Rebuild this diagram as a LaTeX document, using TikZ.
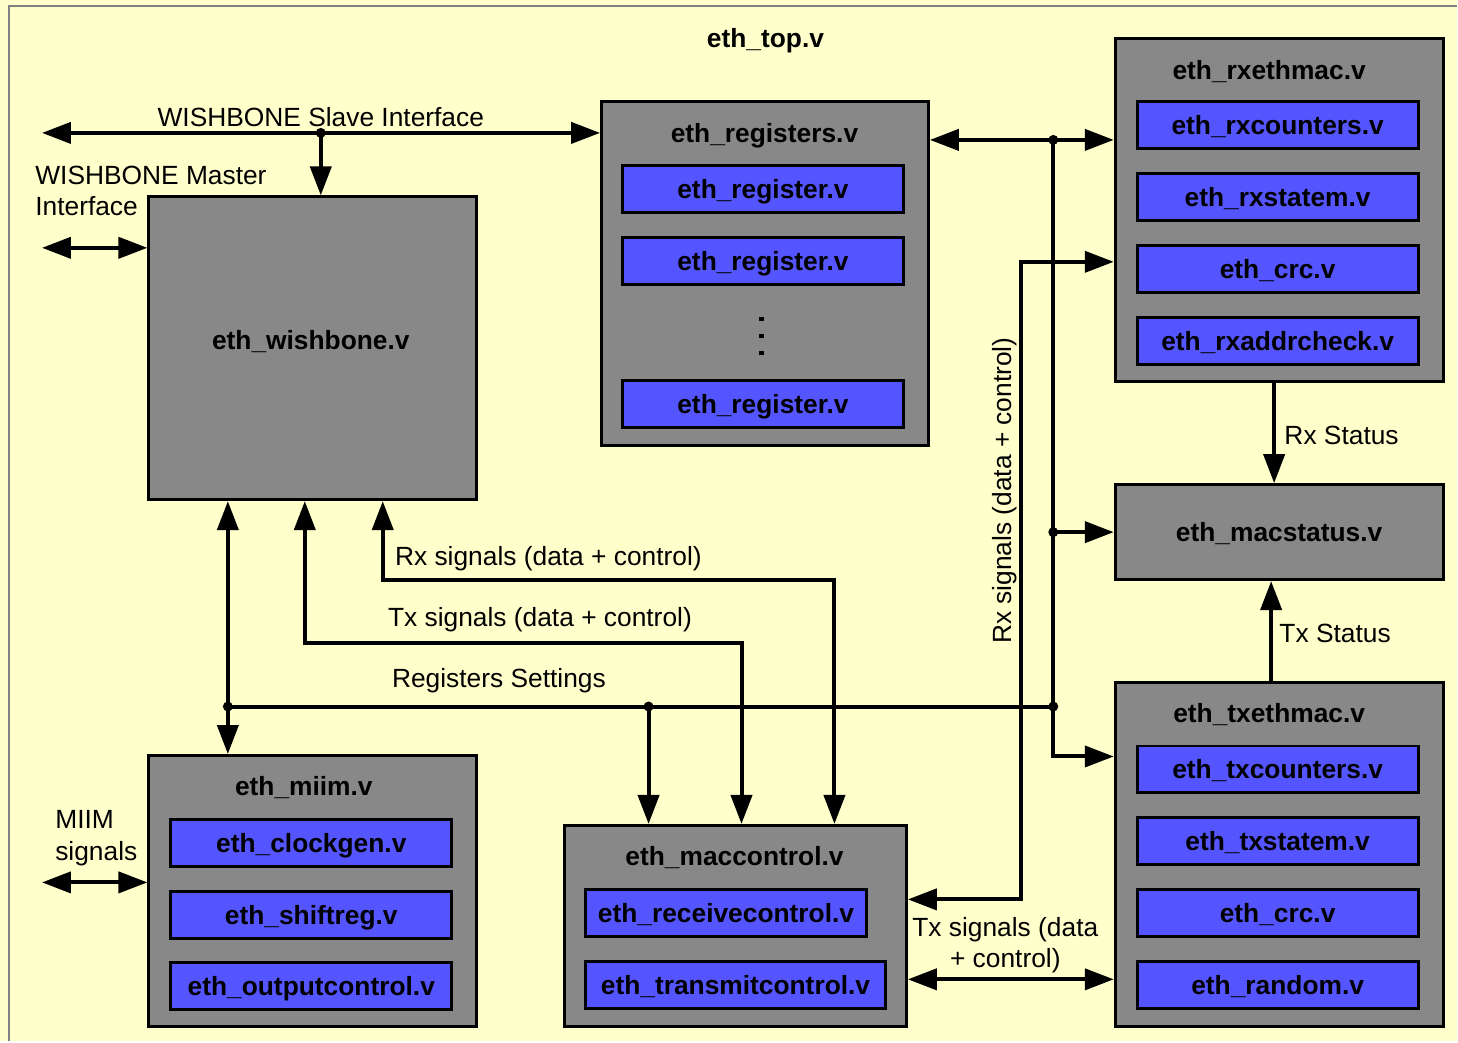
\documentclass[tikz,border=0pt]{standalone}
\usepackage{fontspec}
\setmainfont{Liberation Sans}
\usetikzlibrary{arrows.meta}
\definecolor{topbg}{RGB}{255,255,204}
\definecolor{modgrey}{RGB}{136,136,136}
\definecolor{subblue}{RGB}{85,85,255}
\begin{document}
\begin{tikzpicture}[
        x=0.02cm, y=-0.02cm,
        every node/.style={font=\fontsize{15}{18}\selectfont, inner sep=0pt},
        module/.style={
        draw,
        line width=0.06cm,
        fill=modgrey,
        minimum width=6.56cm,
        text height=10.5pt,
        text depth=0pt,
        font=\fontsize{15}{18}\selectfont\bfseries,
        },
        submod/.style={
        draw,
        line width=0.06cm,
        fill=subblue,
        minimum width=5.62cm,
        minimum height=0.94cm,
        text height=10.5pt,
        text depth=0pt,
        font=\fontsize{15}{18}\selectfont\bfseries,
        },
        modtitle/.style={text height=10.5pt, text depth=0pt, font=\fontsize{15}{18}\selectfont\bfseries},
        sig/.style={text height=10.5pt, text depth=0pt},
        wire/.style={line width=0.08cm},
        >={Triangle[length=0.58cm,width=0.42cm]}
      ]
        \fill[topbg] (0,0) rectangle (1458,1042);
        \draw[gray, line width=0.04cm] (9,1042) -- (9,6) -- (1458,6);

        \node[modtitle] (top) at (766,38) {eth\_top.v};

        \node[module, minimum height=6.06cm] (wb) at (313,348.5) {};
        \node[modtitle] (wbt) at (311,341) {eth\_wishbone.v};

        \node[module, minimum width=6.54cm, minimum height=6.88cm] (regs) at (765.5,274) {};
        \node[modtitle] (regst) at (765,133) {eth\_registers.v};
        \node[submod] (reg1) at (763.5,189.5) {eth\_register.v};
        \node[submod] (reg2) at (763.5,261.5) {eth\_register.v};
        \node[submod] (regn) at (763.5,404.5) {eth\_register.v};
        \foreach \d in {317,334,351}
          \fill (760,\d) rectangle ++(4.5,4.5);

        \node[module, minimum height=6.88cm] (rxmac) at (1280,210) {};
        \node[modtitle] (rxmact) at (1270,70) {eth\_rxethmac.v};
        \node[submod] (rxcnt) at (1278.5,125.5) {eth\_rxcounters.v};
        \node[submod] (rxstm) at (1278.5,197.5) {eth\_rxstatem.v};
        \node[submod] (rxcrc) at (1278.5,269.5) {eth\_crc.v};
        \node[submod] (rxadr) at (1278.5,341.5) {eth\_rxaddrcheck.v};

        \node[module, minimum height=1.9cm] (stat) at (1280,532.5) {eth\_macstatus.v};

        \node[module, minimum height=6.88cm] (txmac) at (1280,855) {};
        \node[modtitle] (txmact) at (1270,714) {eth\_txethmac.v};
        \node[submod] (txcnt) at (1278.5,770) {eth\_txcounters.v};
        \node[submod] (txstm) at (1278.5,841.5) {eth\_txstatem.v};
        \node[submod] (txcrc) at (1278.5,913.5) {eth\_crc.v};
        \node[submod] (txrnd) at (1278.5,985.5) {eth\_random.v};

        \node[module, minimum height=5.42cm] (miim) at (313,891.5) {};
        \node[modtitle] (miimt) at (304,787) {eth\_miim.v};
        \node[submod] (clkg) at (311.5,843.5) {eth\_clockgen.v};
        \node[submod] (shft) at (311.5,915.5) {eth\_shiftreg.v};
        \node[submod] (outc) at (311.5,986.5) {eth\_outputcontrol.v};

        \node[module, minimum width=6.84cm, minimum height=4.02cm] (mac) at (736,926.5) {};
        \node[modtitle] (mact) at (735,857) {eth\_maccontrol.v};
        \node[submod] (rcvc) at (726.5,913.5) {eth\_receivecontrol.v};
        \node[submod, minimum width=6cm] (trnc) at (736,985.5) {eth\_transmitcontrol.v};

        \coordinate (wbs) at (42,133);
        \coordinate (wbj) at (321,133);
        \coordinate (wbm) at (42,248);
        \coordinate (mii) at (42,883);
        \coordinate (rj) at (1054,140);
        \coordinate (sj) at (1054,532.5);
        \coordinate (txin) at (1054,757);
        \coordinate (rs) at (1054,707);
        \coordinate (mj) at (228,707);
        \coordinate (cj) at (649,707);
        \coordinate (txa) at (305,643);
        \coordinate (txb) at (742,643);
        \coordinate (rxa) at (383,580);
        \coordinate (rxb) at (835,580);
        \coordinate (rxt) at (1022,262);
        \coordinate (rxd) at (1022,900);
        \coordinate (txr) at (1010,980);
        \coordinate (rxs) at (1275,430);
        \coordinate (txs) at (1272,630);

        \draw[wire, <->] (wbs) -- (wbs -| regs.west);
        \draw[wire, ->] (wbj) -- (wbj |- wb.north);
        \draw[wire, <->] (wbm) -- (wbm -| wb.west);
        \draw[wire, <->] (mii) -- (mii -| miim.west);

        \draw[wire, <->] (rj -| regs.east) -- (rj -| rxmac.west);
        \draw[wire, ->] (rj) -- (txin) -- (txin -| txmac.west);
        \draw[wire, ->] (sj) -- (stat.west);

        \draw[wire] (mj) -- (rs);
        \draw[wire, <->] (mj |- wb.south) -- (mj |- miim.north);
        \draw[wire, ->] (cj) -- (cj |- mac.north);

        \draw[wire, <->] (txa |- wb.south) -- (txa) -- (txb) -- (txb |- mac.north);
        \draw[wire, <->] (rxa |- wb.south) -- (rxa) -- (rxb) -- (rxb |- mac.north);

        \draw[wire, <->] (rxt -| rxmac.west) -- (rxt) -- (rxd) -- (rxd -| mac.east);
        \draw[wire, <->] (txr -| mac.east) -- (txr -| txmac.west);

        \draw[wire, ->] (rxs |- rxmac.south) -- (rxs |- stat.north);
        \draw[wire, ->] (txs |- txmac.north) -- (txs |- stat.south);

        \foreach \p in {wbj,rj,sj,rs,mj,cj}
          \fill (\p) circle (0.1cm);

        \node[anchor=base] (slvl) at (321,127) {WISHBONE Slave Interface};
        \node[anchor=west, align=left] (mstl) at (35,191) {WISHBONE Master\\Interface};
        \node[anchor=west, align=left] (miil) at (55,839) {MIIM\\signals};
        \node[sig, anchor=west] (rxl) at (395,557) {Rx signals (data + control)};
        \node[sig, anchor=west] (txl) at (388,618) {Tx signals (data + control)};
        \node[sig, anchor=west] (rsl) at (392,679) {Registers Settings};
        \node[sig, rotate=90] (rxvl) at (1003,491) {Rx signals (data + control)};
        \node[align=center] (txhl) at (1006,946) {Tx signals (data\\+ control)};
        \node[sig, anchor=west] (rxsl) at (1285,436) {Rx Status};
        \node[sig, anchor=west] (txsl) at (1280,634) {Tx Status};
      \end{tikzpicture}
\end{document}
